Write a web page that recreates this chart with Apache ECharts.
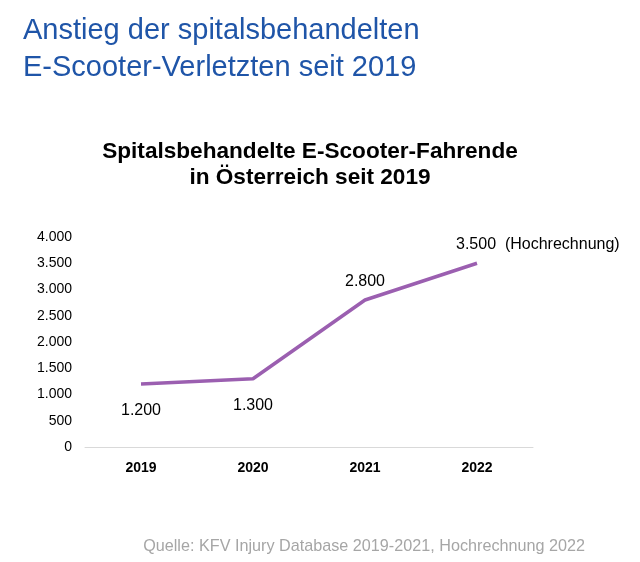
<!DOCTYPE html>
<html>
<head>
<meta charset="utf-8">
<script src="https://cdn.jsdelivr.net/npm/echarts@6/dist/echarts.min.js"></script>
<style>
  html, body { margin: 0; padding: 0; background: #fff; }
  #chart { width: 640px; height: 562px; }
</style>
</head>
<body>
<div id="chart"></div>
<script>
// data
const years = ['2019', '2020', '2021', '2022']
const injured = [1200, 1300, 2800, 3500]
const yTicks = { min: 0, max: 4000, interval: 500 }

const fmt = v => String(v).replace(/\B(?=(\d{3})+(?!\d))/g, '.')

const chart = echarts.init(document.getElementById('chart'))
chart.setOption({
  animation: false,
  textStyle: { fontFamily: 'Liberation Sans, Arial, sans-serif' },
  title: [
    {
      text: 'Anstieg der spitalsbehandelten\nE-Scooter-Verletzten seit 2019',
      left: 18,
      top: 7,
      textStyle: { color: '#1f55a8', fontSize: 29, fontWeight: 'normal', lineHeight: 37 }
    },
    {
      text: 'Spitalsbehandelte E-Scooter-Fahrende\nin Österreich seit 2019',
      left: 305,
      textAlign: 'center',
      top: 134,
      textStyle: { color: '#000', fontSize: 22.6, fontWeight: 'bold', lineHeight: 26 }
    },
    {
      text: 'Quelle: KFV Injury Database 2019-2021, Hochrechnung 2022',
      right: 50,
      top: 534,
      textStyle: { color: '#a6a6a6', fontSize: 16.2, fontWeight: 'normal' }
    }
  ],
  grid: { left: 85, right: 107, top: 237, bottom: 115 },
  xAxis: {
    type: 'category',
    data: years,
    axisLine: { lineStyle: { color: '#d9d9d9', width: 1 } },
    axisTick: { show: false },
    axisLabel: { color: '#000', fontSize: 14, fontWeight: 'bold', margin: 14 }
  },
  yAxis: {
    type: 'value',
    min: yTicks.min,
    max: yTicks.max,
    interval: yTicks.interval,
    splitLine: { show: false },
    axisLine: { show: false },
    axisTick: { show: false },
    axisLabel: { color: '#000', fontSize: 14, margin: 13, formatter: v => fmt(v) }
  },
  series: [{
    type: 'line',
    data: injured.map((v, i) => {
      const item = { value: v }
      if (i < 2) {
        item.label = { position: 'bottom', distance: 19 }
      } else if (i === 3) {
        item.label = {
          position: 'top',
          distance: 11,
          align: 'left',
          offset: [-21, 0],
          formatter: p => fmt(p.value) + '  (Hochrechnung)'
        }
      }
      return item
    }),
    symbol: 'circle',
    symbolSize: 0,
    showSymbol: true,
    itemStyle: { color: '#9b5fb0' },
    lineStyle: { color: '#9b5fb0', width: 3.5 },
    label: {
      show: true,
      position: 'top',
      distance: 10,
      color: '#000',
      fontSize: 16,
      formatter: p => fmt(p.value)
    }
  }]
})
</script>
</body>
</html>
